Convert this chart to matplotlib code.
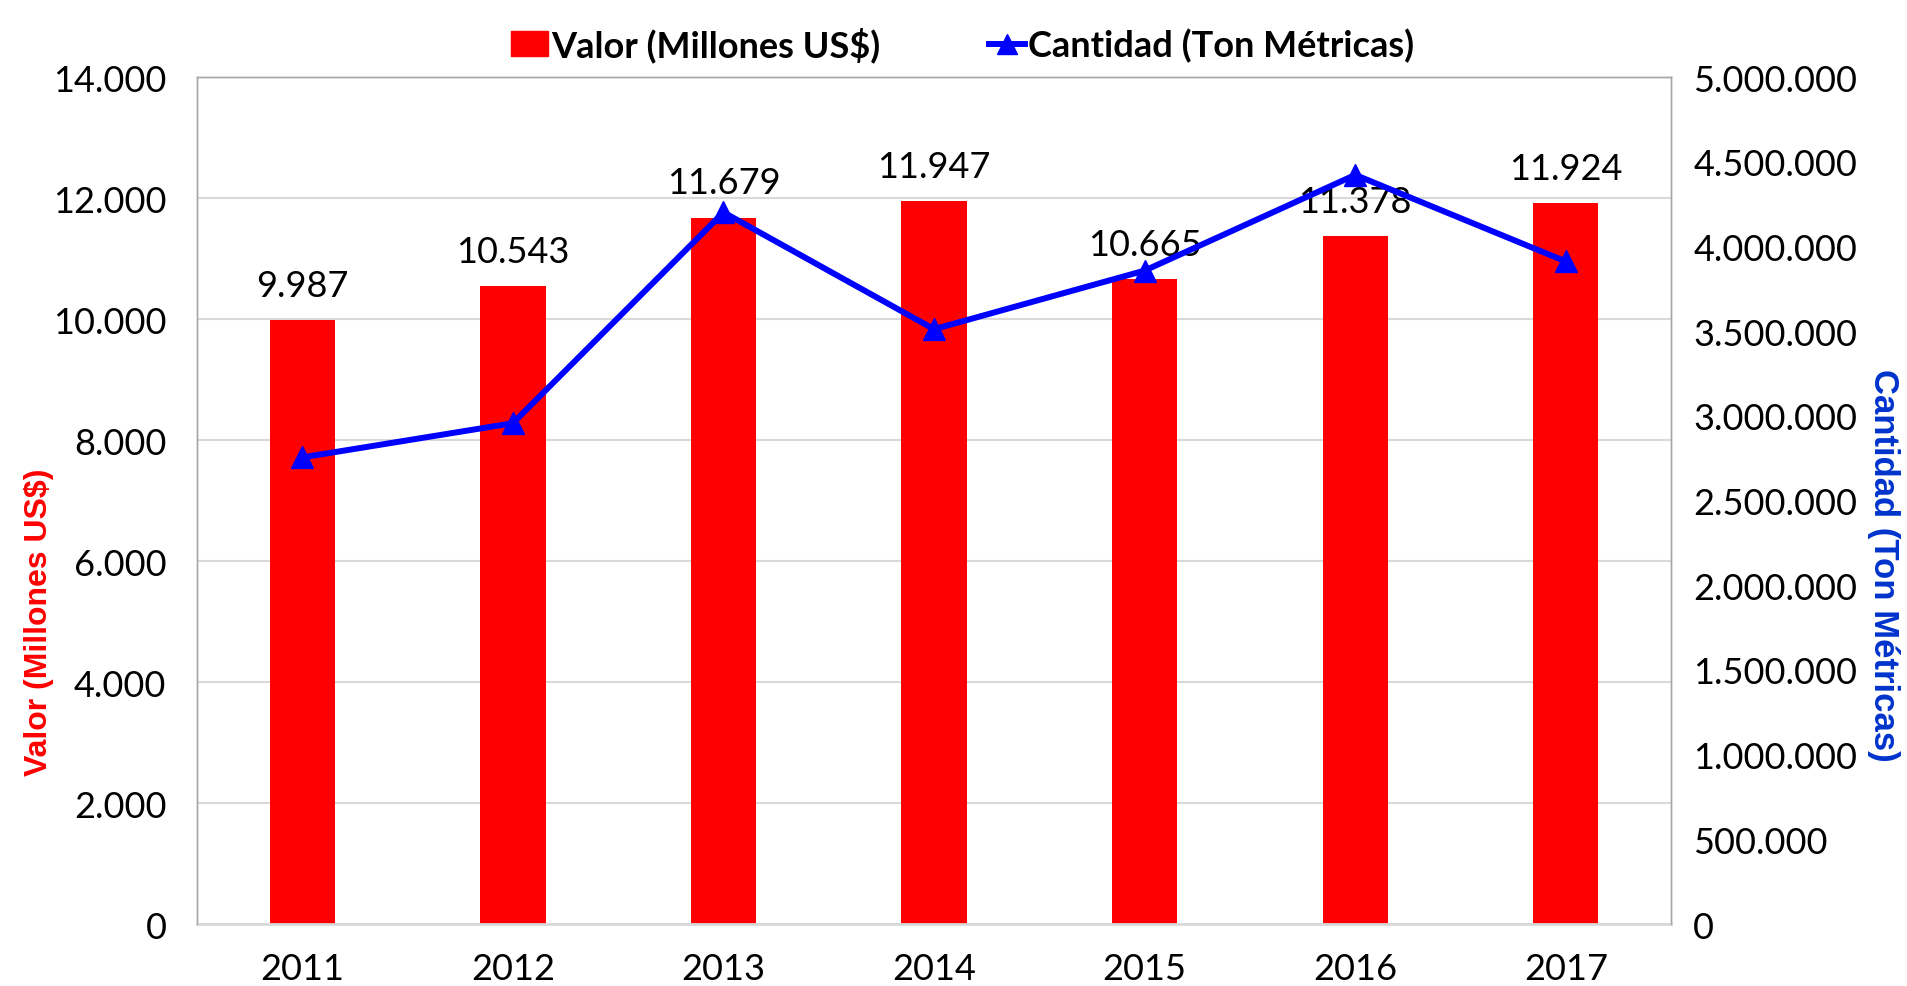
import matplotlib
matplotlib.use("Agg")
import matplotlib.pyplot as plt
from matplotlib.lines import Line2D
from matplotlib.patches import Patch

years = ['2011', '2012', '2013', '2014', '2015', '2016', '2017']
valor = [9987, 10543, 11679, 11947, 10665, 11378, 11924]
cantidad = [2755000, 2957000, 4202000, 3512000, 3858000, 4423000, 3912000]

num_font = 'Lato'
lab_font = 'Liberation Sans'


def miles(v):
    return f'{int(round(v)):,}'.replace(',', '.')


fig = plt.figure(figsize=(19.07, 9.87), dpi=100)
ax = fig.add_axes([0.1033, 0.0628, 0.773, 0.858])
ax2 = ax.twinx()

x = list(range(len(years)))
ax.bar(x, valor, width=0.31, color='#FF0000', zorder=2)
ax2.plot(x, cantidad, color='#0000FF', lw=4.3, marker='^', ms=16, zorder=3)

ax.set_xlim(-0.5, 6.5)
ax.set_ylim(0, 14000)
ax2.set_ylim(0, 5000000)
ax.set_yticks(range(0, 14001, 2000))
ax2.set_yticks(range(0, 5000001, 500000))
ax.set_yticklabels([miles(v) for v in range(0, 14001, 2000)])
ax2.set_yticklabels([miles(v) for v in range(0, 5000001, 500000)])
ax.set_xticks(x)
ax.set_xticklabels(years)

ax.grid(axis='y', color='#D9D9D9', lw=1.5, zorder=0)
ax.set_axisbelow(True)
for a in (ax, ax2):
    for s in a.spines.values():
        s.set_color('#A6A6A6')
        s.set_linewidth(1)
    a.tick_params(length=0, labelsize=26)
    for t in a.get_xticklabels() + a.get_yticklabels():
        t.set_fontfamily(num_font)
ax.spines['bottom'].set_color('#D9D9D9')
ax.spines['bottom'].set_linewidth(2)
ax2.spines['bottom'].set_visible(False)
ax.tick_params(axis='x', pad=20)
ax.tick_params(axis='y', pad=22)
ax2.tick_params(axis='y', pad=16)

for i, v in enumerate(valor):
    ax.text(i, v + 300, miles(v), ha='center', va='bottom', fontsize=26,
            family=num_font, zorder=4)

ax.set_ylabel('Valor (Millones US$)', color='#FF0000', fontsize=23,
              fontweight='bold', family=lab_font, va='center')
ax.yaxis.set_label_coords(-0.107, 0.357)
ax2.set_ylabel('Cantidad (Ton Métricas)', color='#0033CC', fontsize=25,
               fontweight='bold', family=lab_font, rotation=270, va='center')
ax2.yaxis.set_label_coords(1.144, 0.425)

handles = [Patch(color='#FF0000'),
           Line2D([], [], color='#0000FF', lw=4.3, marker='^', ms=14)]
fig.legend(handles, ['Valor (Millones US$)', 'Cantidad (Ton Métricas)'],
           loc='upper center', bbox_to_anchor=(0.505, 1.005), ncol=2, frameon=False,
           prop={'family': num_font, 'weight': 'bold', 'size': 26},
           handlelength=1.0, handletextpad=0.1, columnspacing=3)

fig.savefig('out.png', dpi=100)
